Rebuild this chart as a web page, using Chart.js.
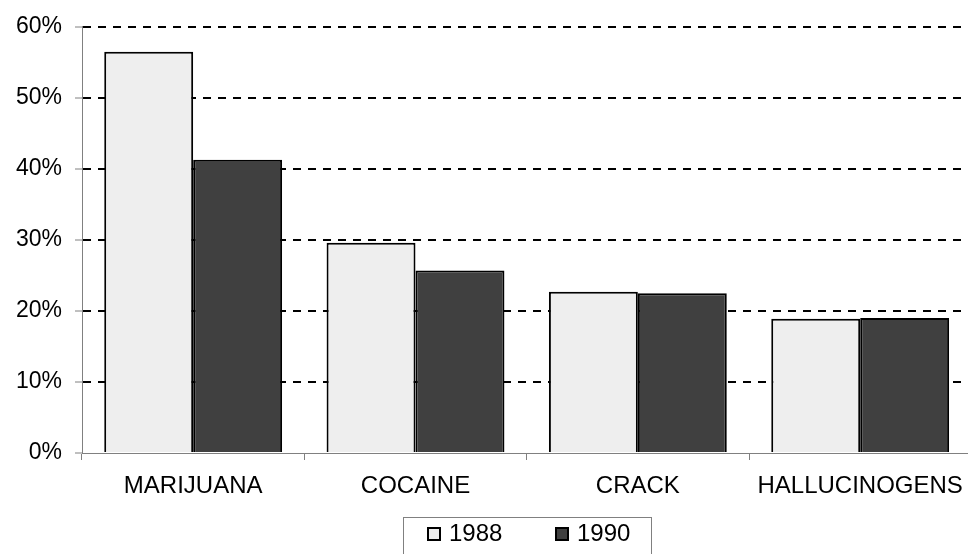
<!DOCTYPE html>
<html>
<head>
<meta charset="utf-8">
<script src="https://cdn.jsdelivr.net/npm/chart.js@4/dist/chart.umd.min.js"></script>
<style>
  html, body { margin: 0; padding: 0; background: #fff; overflow: hidden; }
  #wrap { width: 975px; height: 554px; }
</style>
</head>
<body>
<div id="wrap"><canvas id="chart"></canvas></div>
<script>
const categories = ['MARIJUANA', 'COCAINE', 'CRACK', 'HALLUCINOGENS'];
const values1988 = [56.5, 29.6, 22.7, 18.9];
const values1990 = [41.3, 25.7, 22.5, 19.0];
const seriesLabels = ['1988', '1990'];
const yMax = 60;
const yStep = 10;

const FONT = "'Liberation Sans', Arial, sans-serif";
const AXIS_GRAY = '#808080';

// legend drawn by hand: boxed, centred under the plot area
const legendBox = {
    id: 'legendBox',
    afterDraw(chart) {
        const ctx = chart.ctx;
        const area = chart.chartArea;
        const cx = (area.left + area.right) / 2;
        const left = Math.round(cx - 124);
        const top = 517;

        ctx.save();
        ctx.strokeStyle = AXIS_GRAY;
        ctx.lineWidth = 1;
        ctx.strokeRect(left + 0.5, top + 0.5, 248, 60);

        ctx.font = '24px ' + FONT;
        ctx.textBaseline = 'middle';
        ctx.textAlign = 'left';
        chart.data.datasets.forEach((ds, i) => {
            const x = left + 24 + i * 128;
            ctx.fillStyle = ds.backgroundColor;
            ctx.fillRect(x, top + 10, 14, 14);
            ctx.strokeStyle = '#000';
            ctx.lineWidth = 2;
            ctx.strokeRect(x + 1, top + 11, 12, 12);
            ctx.fillStyle = '#000';
            ctx.fillText(ds.label, x + 22, top + 17);
        });
        ctx.restore();
    }
};

new Chart(document.getElementById('chart'), {
    type: 'bar',
    data: {
        labels: categories,
        datasets: [
            {
                label: seriesLabels[0],
                data: values1988,
                backgroundColor: '#eeeeee',
                borderColor: '#000',
                borderWidth: 2
            },
            {
                label: seriesLabels[1],
                data: values1990,
                backgroundColor: '#404040',
                borderColor: '#000',
                borderWidth: 2
            }
        ]
    },
    options: {
        responsive: true,
        maintainAspectRatio: false,
        animation: false,
        datasets: {
            bar: { categoryPercentage: 0.8, barPercentage: 1.0 }
        },
        layout: { padding: { top: 23, right: 1, bottom: 51, left: 0 } },
        plugins: {
            legend: { display: false },
            tooltip: { enabled: false }
        },
        scales: {
            x: {
                grid: {
                    offset: true,
                    drawOnChartArea: false,
                    tickLength: 7,
                    tickColor: AXIS_GRAY,
                    tickWidth: 1
                },
                border: { color: AXIS_GRAY, width: 1 },
                ticks: {
                    color: '#000',
                    padding: 12,
                    maxRotation: 0,
                    autoSkip: false,
                    font: { family: FONT, size: 24 }
                },
                afterFit: (scale) => { scale.height = 50; }
            },
            y: {
                min: 0,
                max: yMax,
                grid: {
                    color: (ctx) => ctx.tick && ctx.tick.value === 0 ? 'rgba(0,0,0,0)' : '#000',
                    lineWidth: 2,
                    tickLength: 7,
                    tickColor: AXIS_GRAY,
                    tickWidth: 1,
                    tickBorderDash: []
                },
                border: { color: AXIS_GRAY, width: 1, dash: [8, 7] },
                ticks: {
                    stepSize: yStep,
                    color: '#000',
                    padding: 13,
                    font: { family: FONT, size: 23 },
                    callback: (v) => v + '%'
                },
                afterFit: (scale) => { scale.width = 82; }
            }
        }
    },
    plugins: [legendBox]
});
</script>
</body>
</html>
